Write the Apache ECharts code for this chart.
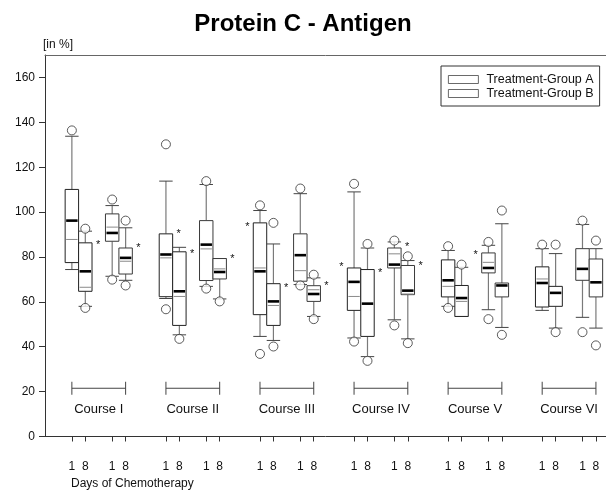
<!DOCTYPE html>
<html>
<head>
<meta charset="utf-8">
<title>Protein C - Antigen</title>
<script src="https://cdn.jsdelivr.net/npm/echarts@6/dist/echarts.min.js"></script>
<style>
  html, body { margin: 0; padding: 0; background: #fff; }
  #chart { width: 606px; height: 491px; }
</style>
</head>
<body>
<div id="chart"></div>
<script>
const courses = ['Course I', 'Course II', 'Course III', 'Course IV', 'Course V', 'Course VI'];
const dayLabels = ['1', '8'];
const yTicks = [0, 20, 40, 60, 80, 100, 120, 140, 160];

// [low whisker, Q1, median, mean, Q3, high whisker], day 1 then day 8 of each course
const groupA = [
  [74.4, 77.5, 96.2, 87.8, 110.1, 133.8],
  [58.0, 64.7, 73.6, 66.5, 86.3, 91.5],
  [61.5, 62.3, 81.1, 79.6, 90.3, 113.8],
  [45.3, 49.5, 64.7, 62.4, 82.3, 84.3],
  [44.6, 54.3, 73.6, 75.1, 95.2, 100.7],
  [42.8, 49.5, 60.2, 58.4, 68.1, 85.8],
  [43.9, 56.2, 68.9, 62.4, 75.1, 109.0],
  [35.6, 44.6, 59.2, null, 74.4, 84.0],
  [58.0, 62.2, 69.6, 66.9, 78.7, 82.9],
  [53.5, 53.5, 61.7, 60.2, 67.3, 75.4],
  [56.2, 57.7, 68.4, 70.2, 75.6, 83.7],
  [48.3, 58.0, 64.0, null, 66.9, 81.5],
];
const groupB = [
  [71.4, 87.0, 90.7, 93.3, 99.2, 102.9],
  [69.6, 72.4, 79.6, 78.1, 84.0, 93.0],
  [66.9, 69.5, 85.5, 83.6, 96.2, 112.3],
  [61.3, 70.2, 73.3, 74.7, 79.3, 79.3],
  [67.7, 69.2, 80.8, 73.9, 90.3, 108.2],
  [53.5, 60.2, 63.5, 65.4, 67.2, 70.7],
  [52.0, 75.1, 76.6, 81.4, 84.0, 86.7],
  [43.5, 63.2, 65.0, 63.5, 76.2, 78.4],
  [56.5, 72.9, 75.1, 77.6, 81.8, 85.2],
  [48.6, 62.2, 67.3, null, 68.4, 94.8],
  [53.1, 69.6, 74.7, null, 83.7, 94.5],
  [48.3, 62.2, 68.7, null, 79.1, 83.7],
];

// outliers: [box index, value]
const outliersA = [
  [0, 136.4], [1, 92.6], [1, 57.3], [2, 130.2], [2, 56.7], [3, 43.5],
  [4, 103.0], [4, 36.8], [5, 95.2], [5, 40.1], [6, 112.6], [6, 42.3],
  [7, 85.8], [7, 33.7], [8, 84.8], [8, 57.3], [9, 76.6], [10, 85.5],
  [11, 85.5], [11, 46.5],
];
const outliersB = [
  [0, 105.6], [0, 69.9], [1, 96.2], [1, 67.3], [2, 113.8], [2, 65.9],
  [3, 60.2], [4, 110.5], [4, 67.3], [5, 72.1], [5, 52.3], [6, 87.3],
  [6, 49.5], [7, 80.3], [7, 41.6], [8, 86.7], [8, 52.3], [9, 100.7],
  [9, 45.3], [10, 96.2], [10, 46.5], [11, 87.3], [11, 40.6],
];

// significance marks: [box index, value, side (-1 left, 1 right)]
const starsA = [[1, 86.9, 1], [2, 91.5, 1], [3, 82.5, 1], [4, 94.8, -1], [5, 67.7, 1], [6, 76.9, -1], [7, 74.4, 1]];
const starsB = [[1, 85.5, 1], [3, 80.3, 1], [5, 68.4, 1], [6, 85.8, 1], [7, 77.4, 1], [8, 82.3, -1]];

const bracketLevel = 21.5;

const FONT = '"Liberation Sans", Arial, Helvetica, sans-serif';

// slot on the x axis: 7 slots per course, A day1/day8, gap, B day1/day8
function slotOf(group, i) {
  return Math.floor(i / 2) * 7 + group * 3 + (i % 2);
}

const tickSlots = [];
const tickText = {};
courses.forEach((c, ci) => {
  [0, 1].forEach((g) => {
    dayLabels.forEach((d, di) => {
      const s = slotOf(g, ci * 2 + di);
      tickSlots.push(s);
      tickText[s] = d;
    });
  });
});

function renderBox(params, api) {
  const slot = api.value(0);
  const x = api.coord([slot, 0])[0];
  const half = api.size([1, 0])[0] / 2;
  const py = (k) => api.coord([slot, api.value(k)])[1];
  const low = py(1), q1 = py(2), med = py(3), q3 = py(5), high = py(6);
  const mean = api.value(4);
  const whisker = { stroke: '#7a7a7a', lineWidth: 1.2 };
  const cap = { stroke: '#444', lineWidth: 1 };
  const children = [
    { type: 'line', shape: { x1: x, y1: high, x2: x, y2: q3 }, style: whisker },
    { type: 'line', shape: { x1: x, y1: q1, x2: x, y2: low }, style: whisker },
    { type: 'line', shape: { x1: x - half, y1: high, x2: x + half, y2: high }, style: cap },
    { type: 'line', shape: { x1: x - half, y1: low, x2: x + half, y2: low }, style: cap },
    {
      type: 'rect',
      shape: { x: x - half, y: q3, width: half * 2, height: q1 - q3 },
      style: { fill: '#fff', stroke: params.seriesIndex === 0 ? '#222' : '#3a3a3a', lineWidth: 1 },
    },
  ];
  if (Number.isFinite(mean)) {
    const my = api.coord([slot, mean])[1];
    children.push({
      type: 'line',
      shape: { x1: x - half + 1, y1: my, x2: x + half - 1, y2: my },
      style: { stroke: '#8a8a8a', lineWidth: 1 },
    });
  }
  children.push({
    type: 'line',
    shape: { x1: x - half + 1, y1: med, x2: x + half - 1, y2: med },
    style: { stroke: '#000', lineWidth: 2.6 },
  });
  return { type: 'group', children };
}

function renderStar(params, api) {
  const slot = api.value(0);
  const side = api.value(2);
  const half = api.size([1, 0])[0] / 2;
  const p = api.coord([slot, api.value(1)]);
  return {
    type: 'text',
    x: p[0] + side * (half + 6),
    y: p[1] + 3,
    style: { text: '*', fill: '#111', font: '11px ' + FONT, align: 'center', verticalAlign: 'middle' },
  };
}

function renderBracket(params, api) {
  const c = api.value(0);
  const left = api.coord([slotOf(0, c * 2), api.value(1)]);
  const right = api.coord([slotOf(1, c * 2 + 1), api.value(1)]);
  const stroke = { stroke: '#444', lineWidth: 1 };
  return {
    type: 'group',
    children: [
      { type: 'line', shape: { x1: left[0], y1: left[1], x2: right[0], y2: right[1] }, style: stroke },
      { type: 'line', shape: { x1: left[0], y1: left[1] - 6.5, x2: left[0], y2: left[1] + 6.5 }, style: stroke },
      { type: 'line', shape: { x1: right[0], y1: right[1] - 6.5, x2: right[0], y2: right[1] + 6.5 }, style: stroke },
      {
        type: 'text',
        x: (left[0] + right[0]) / 2,
        y: left[1] + 21,
        style: { text: courses[c], fill: '#111', font: '13px ' + FONT, align: 'center', verticalAlign: 'middle' },
      },
    ],
  };
}

const boxSeries = (name, group, rows) => ({
  name,
  type: 'custom',
  renderItem: renderBox,
  encode: { x: 0, y: [1, 2, 3, 4, 5, 6] },
  data: rows.map((r, i) => [slotOf(group, i), ...r]),
  z: 2,
});

const outlierSeries = (group, rows) => ({
  type: 'scatter',
  symbol: 'circle',
  symbolSize: 9,
  itemStyle: { color: '#fff', borderColor: '#333', borderWidth: 1 },
  data: rows.map(([i, v]) => [slotOf(group, i), v]),
  z: 3,
  silent: true,
});

const starSeries = (group, rows) => ({
  type: 'custom',
  renderItem: renderStar,
  encode: { x: 0, y: 1 },
  data: rows.map(([i, v, side]) => [slotOf(group, i), v, side]),
  z: 3,
});

const chart = echarts.init(document.getElementById('chart'), null, { renderer: 'canvas' });

chart.setOption({
  animation: false,
  backgroundColor: '#fff',
  textStyle: { fontFamily: FONT },
  grid: { left: 45, right: 0, top: 55, bottom: 54.5 },
  legend: {
    orient: 'vertical',
    left: 441,
    top: 66,
    padding: [7, 6, 6, 7],
    itemGap: 1,
    itemWidth: 30,
    itemHeight: 8,
    borderColor: '#333',
    borderWidth: 1,
    selectedMode: false,
    textStyle: { fontSize: 12.5, color: '#111', fontFamily: FONT, padding: [0, 0, 0, 3] },
    data: [
      { name: 'Treatment-Group A', icon: 'rect', itemStyle: { color: '#fff', borderColor: '#444', borderWidth: 0.8 } },
      { name: 'Treatment-Group B', icon: 'rect', itemStyle: { color: '#fff', borderColor: '#444', borderWidth: 0.8 } },
    ],
  },
  graphic: [
    {
      type: 'text', left: 'center', top: 12,
      style: { text: 'Protein C - Antigen', font: 'bold 24px ' + FONT, fill: '#000' },
    },
    {
      type: 'text', left: 43, top: 39,
      style: { text: '[in %]', font: '12px ' + FONT, fill: '#111' },
    },
    {
      type: 'text', left: 71, top: 478,
      style: { text: 'Days of Chemotherapy', font: '12px ' + FONT, fill: '#111' },
    },
  ],
  xAxis: [
    {
      type: 'value',
      min: -2,
      max: 39.75,
      splitLine: { show: false },
      axisLine: { show: true, onZero: false, lineStyle: { color: '#333', width: 1 } },
      axisTick: { show: true, length: 5, customValues: tickSlots, lineStyle: { color: '#333' } },
      axisLabel: {
        customValues: tickSlots,
        margin: 24,
        fontSize: 12,
        color: '#111',
        formatter: (v) => tickText[v] || '',
      },
    },
    {
      type: 'value',
      position: 'top',
      min: -2,
      max: 39.75,
      splitLine: { show: false },
      axisLine: { show: true, onZero: false, lineStyle: { color: '#666', width: 1 } },
      axisTick: { show: false },
      axisLabel: { show: false },
    },
  ],
  yAxis: {
    type: 'value',
    min: 0,
    max: 170,
    splitLine: { show: false },
    axisLine: { show: true, onZero: false, lineStyle: { color: '#333', width: 1 } },
    axisTick: { show: true, length: 6, customValues: yTicks, lineStyle: { color: '#333' } },
    axisLabel: { customValues: yTicks, margin: 10, fontSize: 12, color: '#111' },
  },
  series: [
    boxSeries('Treatment-Group A', 0, groupA),
    boxSeries('Treatment-Group B', 1, groupB),
    outlierSeries(0, outliersA),
    outlierSeries(1, outliersB),
    starSeries(0, starsA),
    starSeries(1, starsB),
    {
      type: 'custom',
      renderItem: renderBracket,
      encode: { x: 0, y: 1 },
      data: courses.map((c, i) => [i, bracketLevel]),
      z: 1,
    },
  ],
});
</script>
</body>
</html>
